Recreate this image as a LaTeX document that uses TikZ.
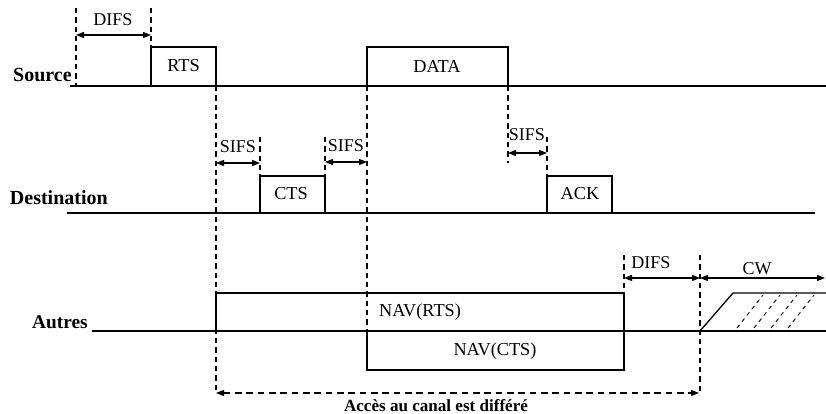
\documentclass[tikz,border=0pt]{standalone}
\usepackage{fontspec}
\setmainfont{Liberation Serif}
\usetikzlibrary{arrows.meta,calc}
\tikzset{
  ligne/.style={draw=black,line width=1.1pt},
  trame/.style={draw=black,line width=1pt},
  repere/.style={draw=black,dash pattern=on 4pt off 3pt,line width=.8pt},
  duree/.style={{Triangle[length=6pt,width=4.5pt]}-{Triangle[length=6pt,width=4.5pt]},
                draw=black,line width=.9pt},
  attente/.style={duree,dash pattern=on 5pt off 3.5pt},
  hachure/.style={draw=black,dash pattern=on 3pt off 3pt,line width=.7pt},
  poste/.style={font=\fontsize{15}{17}\selectfont\bfseries,inner sep=0pt},
  etiq/.style={font=\fontsize{13.5}{15}\selectfont,inner sep=0pt},
  trameetiq/.style={font=\fontsize{13.7}{15}\selectfont,inner sep=0pt},
}
\begin{document}
\begin{tikzpicture}[x=0.75pt,y=-0.75pt]
  \useasboundingbox (0,0) rectangle (826,414);
  % lignes des stations
  \node[poste,anchor=east] (source) at (72,75) {Source};
  \node[poste,anchor=east] (dest) at (108,198) {Destination};
  \node[poste,anchor=east,font=\fontsize{14.5}{16}\selectfont\bfseries] (autres) at (88,322) {Autres};
  \draw[ligne] (70,86) -- (826,86);
  \draw[ligne] (67,213) -- (815,213);
  \draw[ligne] (92,331) -- (826,331);
  % trames
  \draw[trame] (151,86) |- (216,47) -- (216,86);
  \draw[trame] (367,86) |- (508,47) -- (508,86);
  \draw[trame] (260,213) |- (325,176) -- (325,213);
  \draw[trame] (547,213) |- (612,176) -- (612,213);
  \draw[trame] (216,331) |- (624,293) -- (624,331);
  \draw[trame] (367,331) |- (624,370) -- (624,331);
  \draw[trame] (700,331) -- (733,293) -- (826,293);
  \foreach \k in {0,...,3}
    \draw[hachure] ({737+17*\k},328) -- ({763+17*\k},295);
  \node[trameetiq] (rts) at (183.5,66) {RTS};
  \node[trameetiq] (data) at (437,66) {DATA};
  \node[trameetiq] (cts) at (291,194) {CTS};
  \node[trameetiq] (ack) at (580,194) {ACK};
  \node[trameetiq] (navrts) at (420,312) {NAV(RTS)};
  \node[trameetiq] (navcts) at (495,351) {NAV(CTS)};
  % reperes
  \foreach \x/\ya/\yb in {76/8/86, 151/8/47, 216/86/393, 260/137/176, 325/137/176,
      367/86/331, 508/86/163, 547/137/176, 624/255/293, 700/255/395}
    \draw[repere] (\x,\ya) -- (\x,\yb);
  % durees
  \coordinate (difsA) at (76,35);   \coordinate (difsB) at (151,35);
  \coordinate (sifsA) at (216,163); \coordinate (sifsB) at (260,163);
  \coordinate (sifsC) at (325,162); \coordinate (sifsD) at (367,162);
  \coordinate (sifsE) at (508,153); \coordinate (sifsF) at (547,153);
  \coordinate (difsC) at (624,278); \coordinate (difsD) at (700,278);
  \coordinate (cwB) at (825,278);
  \coordinate (diffA) at (216,393); \coordinate (diffB) at (699,393);
  \draw[duree] (difsA) -- (difsB);
  \draw[duree] (sifsA) -- (sifsB);
  \draw[duree] (sifsC) -- (sifsD);
  \draw[duree] (sifsE) -- (sifsF);
  \draw[duree] (difsC) -- (difsD);
  \draw[duree] (difsD) -- (cwB);
  \draw[attente] (diffA) -- (diffB);
  \node[etiq] (ldifsA) at (113,20) {DIFS};
  \node[etiq] (lsifsA) at (238,147) {SIFS};
  \node[etiq] (lsifsB) at (346,146) {SIFS};
  \node[etiq] (lsifsC) at (527,135) {SIFS};
  \node[etiq] (ldifsB) at (651,263) {DIFS};
  \node[etiq] (lcw) at (757,269) {CW};
  \node[font=\fontsize{12.8}{14}\selectfont\bfseries,inner sep=0pt] (acces) at (436,406)
    {Accès au canal est différé};
\end{tikzpicture}
\end{document}
